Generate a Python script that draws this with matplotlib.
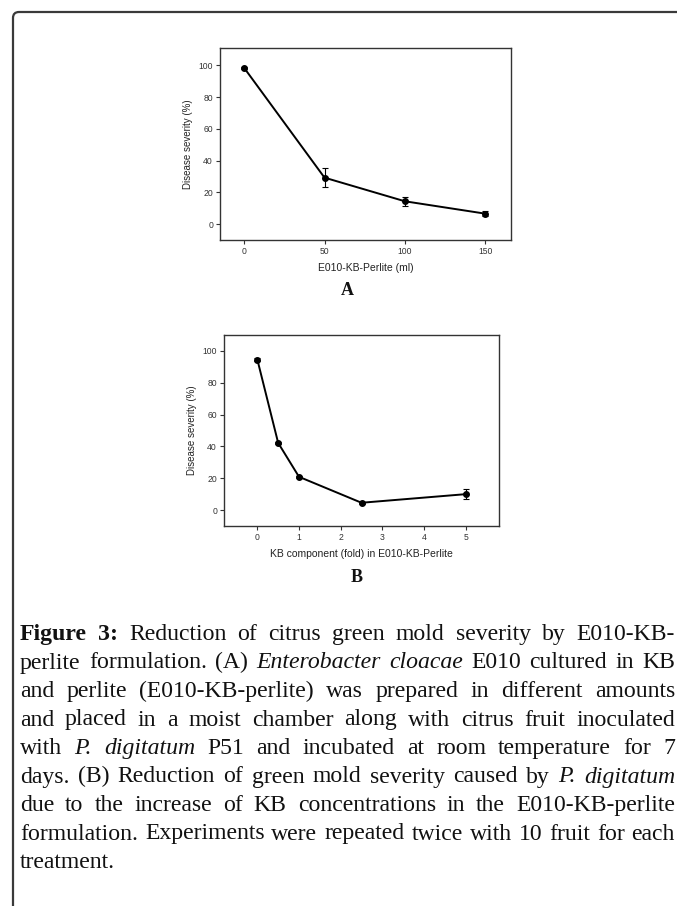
import numpy as np
import matplotlib
matplotlib.use('Agg')
import matplotlib.pyplot as plt
from matplotlib.path import Path
from matplotlib.patches import PathPatch
from matplotlib.font_manager import FontProperties

# panel A data
amount_ml = [0, 50, 100, 150]
severity_a = [98.5, 29.3, 14.4, 6.6]
err_a = [0.8, 5.8, 3.0, 1.5]

# panel B data
kb_fold = [0, 0.5, 1, 2.5, 5]
severity_b = [94.6, 42.2, 20.9, 4.6, 10.0]
err_b = [0.8, 0.6, 0.6, 0.6, 3.3]

yticks = [0, 20, 40, 60, 80, 100]
xticks_a = [0, 50, 100, 150]
xticks_b = [0, 1, 2, 3, 4, 5]

W, H = 677, 906
fig = plt.figure(figsize=(W/100, H/100), dpi=100)

def fx(px): return px/W
def fy(py): return 1 - py/H

def axes_px(l, t, r, b):
    return fig.add_axes([fx(l), fy(b), (r-l)/W, (b-t)/H])

sans = 'Liberation Sans'
serif = 'Liberation Serif'

def style(ax, xl, xt):
    for s in ax.spines.values():
        s.set_linewidth(1.0)
        s.set_color('#333333')
    ax.set_xticks(xt)
    ax.set_yticks(yticks)
    ax.tick_params(direction='out', length=3, width=0.8, pad=2,
                   labelsize=6.2, colors='#333333')
    for lab in ax.get_xticklabels() + ax.get_yticklabels():
        lab.set_family(sans)
    ax.set_xlabel(xl, fontsize=7.5, family=sans, color='#222222', labelpad=5)
    ax.set_ylabel('Disease severity (%)', fontsize=7, family=sans,
                  color='#222222', labelpad=4)

# panel A
axA = axes_px(220, 48, 511, 240)
axA.errorbar(amount_ml, severity_a, yerr=err_a, fmt='-o', color='black',
             ms=4, lw=1.4, elinewidth=0.8, capsize=2.5, capthick=0.8)
axA.set_xlim(-15, 166)
axA.set_ylim(-10, 111)
style(axA, 'E010-KB-Perlite (ml)', xticks_a)
fig.text(fx(347), fy(290), 'A', ha='center', va='center', fontsize=13,
         family=serif, weight='bold', color='#111111')

# panel B
axB = axes_px(224, 335, 499, 526)
axB.errorbar(kb_fold, severity_b, yerr=err_b, fmt='-o', color='black',
             ms=4, lw=1.4, elinewidth=0.8, capsize=2.5, capthick=0.8)
axB.set_xlim(-0.8, 5.8)
axB.set_ylim(-10, 110)
style(axB, 'KB component (fold) in E010-KB-Perlite', xticks_b)
fig.text(fx(357), fy(577), 'B', ha='center', va='center', fontsize=13,
         family=serif, weight='bold', color='#111111')

# outer frame (rounded top-left corner)
r = 6
verts = [(W + 5, 12), (13 + r, 12), (13, 12), (13, 12 + r), (13, H + 5)]
codes = [Path.MOVETO, Path.LINETO, Path.CURVE3, Path.CURVE3, Path.LINETO]
verts = [(fx(x), fy(y)) for x, y in verts]
fig.patches.append(PathPatch(Path(verts, codes), transform=fig.transFigure,
                             fill=False, lw=1.6, edgecolor='#3a3a3a'))

# caption, justified
lines = [
    [('Figure', 'b'), ('3:', 'b'), ('Reduction', 'n'), ('of', 'n'), ('citrus', 'n'),
     ('green', 'n'), ('mold', 'n'), ('severity', 'n'), ('by', 'n'), ('E010-KB-', 'n')],
    [('perlite', 'n'), ('formulation.', 'n'), ('(A)', 'n'), ('Enterobacter', 'i'),
     ('cloacae', 'i'), ('E010', 'n'), ('cultured', 'n'), ('in', 'n'), ('KB', 'n')],
    [(w, 'n') for w in 'and perlite (E010-KB-perlite) was prepared in different amounts'.split()],
    [(w, 'n') for w in 'and placed in a moist chamber along with citrus fruit inoculated'.split()],
    [('with', 'n'), ('P.', 'i'), ('digitatum', 'i')] +
    [(w, 'n') for w in 'P51 and incubated at room temperature for 7'.split()],
    [(w, 'n') for w in 'days. (B) Reduction of green mold severity caused by'.split()] +
    [('P.', 'i'), ('digitatum', 'i')],
    [(w, 'n') for w in 'due to the increase of KB concentrations in the E010-KB-perlite'.split()],
    [(w, 'n') for w in 'formulation. Experiments were repeated twice with 10 fruit for each'.split()],
    [('treatment.', 'n')],
]
justify = [True] * 8 + [False]

renderer = fig.canvas.get_renderer()

def props(st, size):
    return FontProperties(family=serif, size=size,
                          weight='bold' if st == 'b' else 'normal',
                          style='italic' if st == 'i' else 'normal')

def width(s, st, size):
    w, _, _ = renderer.get_text_width_height_descent(s, props(st, size), ismath=False)
    return w

left, right = 20, 675
# pick size so the full (unstretched) line 8 spans the text block
base = 12.0
sp = width('a a', 'n', base) - width('aa', 'n', base)
nat = sum(width(w, s, base) for w, s in lines[7]) + sp*(len(lines[7]) - 1)
size = base*(right - left)/nat*0.985

y0, dy = 640, 28.5
for i, (ln, just) in enumerate(zip(lines, justify)):
    ws = [width(w, s, size) for w, s in ln]
    if just and len(ln) > 1:
        gap = (right - left - sum(ws))/(len(ln) - 1)
    else:
        gap = width('a a', 'n', size) - width('aa', 'n', size)
    x = left
    yb = y0 + i*dy
    for (w, s), ww in zip(ln, ws):
        fig.text(fx(x), fy(yb), w, fontproperties=props(s, size),
                 ha='left', va='baseline', color='#111111')
        x += ww + gap

plt.savefig('out.png', dpi=100)
